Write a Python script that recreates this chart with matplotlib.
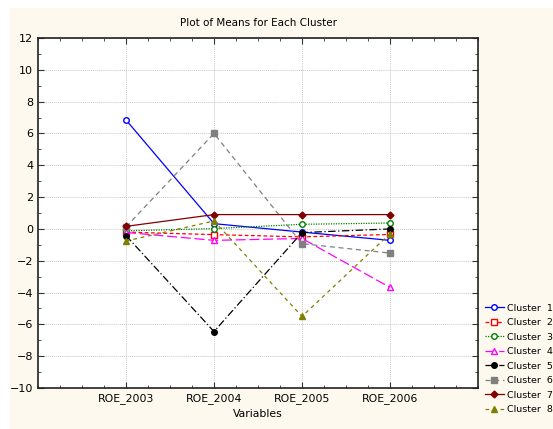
import matplotlib
matplotlib.use("Agg")
import matplotlib.pyplot as plt
from matplotlib.patches import Rectangle
from matplotlib.ticker import MultipleLocator

variables = ["ROE_2003", "ROE_2004", "ROE_2005", "ROE_2006"]
clusters = ["Cluster  1", "Cluster  2", "Cluster  3", "Cluster  4",
            "Cluster  5", "Cluster  6", "Cluster  7", "Cluster  8"]
c1 = [6.85, 0.33, -0.2, -0.72]
c2 = [-0.2, -0.36, -0.5, -0.35]
c3 = [-0.12, 0.02, 0.29, 0.37]
c4 = [-0.22, -0.72, -0.6, -3.68]
c5 = [-0.42, -6.45, -0.23, 0.0]
c6 = [0.12, 6.0, -0.93, -1.52]
c7 = [0.16, 0.9, 0.9, 0.9]
c8 = [-0.76, 0.5, -5.5, -0.3]
series = [c1, c2, c3, c4, c5, c6, c7, c8]

styles = [
    dict(color="#0000ff", ls="-", marker="o", mfc="white"),
    dict(color="#ff0000", ls=(0, (3, 2)), marker="s", mfc="white"),
    dict(color="#008000", ls=(0, (1, 1)), marker="o", mfc="white"),
    dict(color="#ff00ff", ls=(0, (8, 3)), marker="^", mfc="white"),
    dict(color="#000000", ls=(0, (6, 2, 1, 2)), marker="o", mfc="#000000"),
    dict(color="#808080", ls=(0, (4, 3)), marker="s", mfc="#808080"),
    dict(color="#800000", ls="-", marker="D", mfc="#800000"),
    dict(color="#808000", ls=(0, (3, 3)), marker="^", mfc="#808000"),
]

fig = plt.figure(figsize=(5.53, 4.29), dpi=100, facecolor="white")
fig.patches.append(Rectangle((10 / 553, 0), 1, 1 - 8 / 429, transform=fig.transFigure,
                             facecolor="#fef9ee", edgecolor="none", zorder=-10))
ax = fig.add_axes([38 / 553, 41 / 429, 440 / 553, 350 / 429])
ax.set_facecolor("white")

x = list(range(1, len(variables) + 1))
for vals, lab, st in zip(series, clusters, styles):
    ms = 4 if st["marker"] != "D" else 3.5
    ax.plot(x, vals, color=st["color"], ls=st["ls"], lw=0.9, marker=st["marker"],
            mfc=st["mfc"], mec=st["color"], ms=ms, label=lab)

ax.set_xlim(0, 5)
ax.set_ylim(-10, 12)
ax.set_xticks(x)
ax.set_xticklabels(variables, fontsize=7.8)
ax.xaxis.set_minor_locator(MultipleLocator(0.25))
ax.yaxis.set_major_locator(MultipleLocator(2))
ax.yaxis.set_minor_locator(MultipleLocator(1))
ax.tick_params(axis="y", labelsize=8)
ax.tick_params(which="both", direction="in", top=True, right=True, color="#333333")
ax.tick_params(which="major", length=4, width=0.8)
ax.tick_params(which="minor", length=2.5, width=0.6)
ax.grid(True, which="major", color="#c8c8c8", ls=(0, (1, 1)), lw=0.7)
for s in ax.spines.values():
    s.set_linewidth(1.2)
    s.set_color("#222222")
ax.set_title("Plot of Means for Each Cluster", fontsize=7.5, pad=9)
ax.set_xlabel("Variables", fontsize=7.8, labelpad=4)

fig.legend(loc="upper left", bbox_to_anchor=(481 / 553, 1 - 300 / 429), frameon=False,
           fontsize=6.8, handlelength=2.0, handletextpad=0.35, labelspacing=0.58,
           borderaxespad=0)

fig.savefig("out.png", dpi=100, facecolor=fig.get_facecolor())
